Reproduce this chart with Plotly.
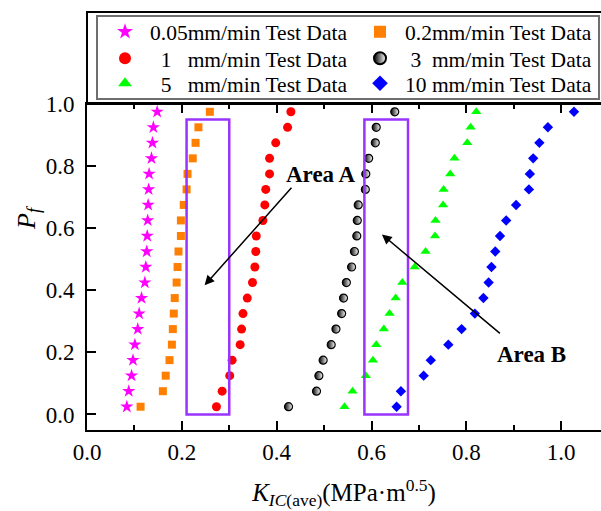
import plotly.graph_objects as go

pf = [0.025, 0.075, 0.125, 0.175, 0.225, 0.275, 0.325, 0.375, 0.425, 0.475,
      0.525, 0.575, 0.625, 0.675, 0.725, 0.775, 0.825, 0.875, 0.925, 0.975]

k_005 = [0.084, 0.088, 0.094, 0.097, 0.101, 0.107, 0.110, 0.115, 0.122, 0.124,
         0.126, 0.127, 0.128, 0.129, 0.130, 0.131, 0.136, 0.138, 0.140, 0.148]
k_02 = [0.113, 0.160, 0.166, 0.174, 0.179, 0.181, 0.183, 0.185, 0.189, 0.191,
        0.193, 0.198, 0.198, 0.204, 0.210, 0.212, 0.223, 0.229, 0.235, 0.259]
k_1 = [0.273, 0.285, 0.301, 0.306, 0.323, 0.326, 0.329, 0.338, 0.349, 0.354,
       0.356, 0.357, 0.371, 0.375, 0.377, 0.385, 0.385, 0.398, 0.423, 0.430]
k_3 = [0.425, 0.484, 0.489, 0.498, 0.515, 0.525, 0.537, 0.541, 0.547, 0.558,
       0.564, 0.569, 0.570, 0.572, 0.587, 0.588, 0.594, 0.608, 0.610, 0.649]
k_5 = [0.543, 0.560, 0.588, 0.603, 0.610, 0.626, 0.638, 0.651, 0.665, 0.691,
       0.714, 0.734, 0.735, 0.751, 0.752, 0.766, 0.775, 0.802, 0.809, 0.821]
k_10 = [0.653, 0.662, 0.710, 0.725, 0.762, 0.790, 0.818, 0.836, 0.847, 0.853,
        0.861, 0.871, 0.884, 0.905, 0.932, 0.934, 0.941, 0.954, 0.972, 1.027]

names = ["0.05mm/min Test Data",
         "0.2mm/min Test Data",
         "\u00a0\u00a01\u00a0\u00a0\u00a0mm/min Test Data",
         "\u00a03\u00a0\u00a0mm/min Test Data",
         "\u00a0\u00a05\u00a0\u00a0\u00a0mm/min Test Data",
         "10\u00a0mm/min Test Data"]

area_a = [0.21, 0.30]
area_b = [0.585, 0.677]
area_y = [0.0, 0.95]

FONT = "Liberation Serif, Times New Roman, serif"

# plot area in pixels: left 87, right 601, top 104, bottom 430
PL, PW, PB, PH = 87, 514, 430, 326


def px_x(p):
    return (p - PL) / PW


def px_y(p):
    return (PB - p) / PH


fig = go.Figure()

series = [
    (k_005, dict(symbol="star", size=10, color="#FF00FF")),
    (k_02, dict(symbol="square", size=8, color="#FF7F00")),
    (k_1, dict(symbol="circle", size=9, color="#FF0000")),
    (k_3, dict(symbol="circle", size=8, color="black",
               line=dict(color="black", width=1.2),
               gradient=dict(type="horizontal", color="white"))),
    (k_5, dict(symbol="triangle-up", size=9, color="#00FF00")),
    (k_10, dict(symbol="diamond", size=8, color="#0000FF")),
]
legend_ids = ["legend", "legend2", "legend3", "legend4", "legend5", "legend6"]
for (xs, mk), nm, lg in zip(series, names, legend_ids):
    m = dict(mk)
    if "line" not in m:
        m["line"] = dict(width=0)
    fig.add_trace(go.Scatter(x=xs, y=pf, mode="markers", name=nm, marker=m,
                             legend=lg))

# Area rectangles
for ar in (area_a, area_b):
    fig.add_shape(type="rect", xref="x", yref="y", x0=ar[0], x1=ar[1],
                  y0=area_y[0], y1=area_y[1],
                  line=dict(color="#9933FF", width=2.5))

# frame above the plot holding the legend
fig.add_shape(type="rect", xref="paper", yref="paper", x0=0, x1=1.01,
              y0=1, y1=px_y(12), line=dict(color="black", width=2))
# legend border
fig.add_shape(type="rect", xref="paper", yref="paper", x0=px_x(97), x1=px_x(599),
              y0=px_y(99), y1=px_y(16), line=dict(color="#6E6E6E", width=2))

# arrows
fig.add_annotation(x=0.248, y=0.416, ax=0.434, ay=0.735, xref="x", yref="y",
                   axref="x", ayref="y", text="", showarrow=True,
                   arrowhead=2, arrowsize=1.3, arrowwidth=1.5, arrowcolor="black")
fig.add_annotation(x=0.622, y=0.58, ax=0.874, ay=0.257, xref="x", yref="y",
                   axref="x", ayref="y", text="", showarrow=True,
                   arrowhead=2, arrowsize=1.3, arrowwidth=1.5, arrowcolor="black")
fig.add_annotation(x=0.493, y=0.773, xref="x", yref="y", text="<b>Area A</b>",
                   showarrow=False, font=dict(family=FONT, size=23, color="black"))
fig.add_annotation(x=0.938, y=0.193, xref="x", yref="y", text="<b>Area B</b>",
                   showarrow=False, font=dict(family=FONT, size=23, color="black"))

# y title
fig.add_annotation(x=px_x(10), y=px_y(218), xref="paper", yref="paper",
                   text="<i>P<sub>f</sub></i>", textangle=-90, showarrow=False,
                   font=dict(family=FONT, size=26, color="black"))

axis_common = dict(showgrid=False, zeroline=False, showline=True, linewidth=2,
                   linecolor="black", ticks="inside", ticklen=9, tickwidth=2,
                   tickcolor="black", tickformat=".1f",
                   tickfont=dict(family=FONT, size=23, color="black"))

fig.update_xaxes(range=[0, 1.084], dtick=0.2, tick0=0, mirror="ticks",
                 minor=dict(dtick=0.1, tick0=0, ticks="inside", ticklen=5,
                            tickwidth=2, tickcolor="black"),
                 title=dict(text="<i>K</i><sub><i>IC</i>(ave)</sub>(MPa·m<sup>0.5</sup>)",
                            font=dict(family=FONT, size=25, color="black"),
                            standoff=20),
                 **axis_common)
fig.update_yaxes(range=[-0.05, 1.0001], dtick=0.2, tick0=0, mirror=False,
                 ticklabelstandoff=6, **axis_common)

# one legend per entry so the 2x3 grid matches the reference spacing
col_x = [100, 355]
row_y = [31.7, 58.3, 83.3]
leg_layout = {}
for i, lg in enumerate(legend_ids):
    r, c = divmod(i, 2)
    leg_layout[lg] = dict(x=px_x(col_x[c]), y=px_y(row_y[r]),
                          xanchor="left", yanchor="middle",
                          font=dict(family=FONT, size=21.5, color="black"),
                          bgcolor="rgba(0,0,0,0)", borderwidth=0,
                          itemwidth=40, itemsizing="constant")

fig.update_layout(
    width=601, height=511,
    margin=dict(l=PL, r=0, t=104, b=81),
    plot_bgcolor="white", paper_bgcolor="white",
    font=dict(family=FONT, color="black"),
    showlegend=True,
    **leg_layout,
)

fig.write_html("out.html")
